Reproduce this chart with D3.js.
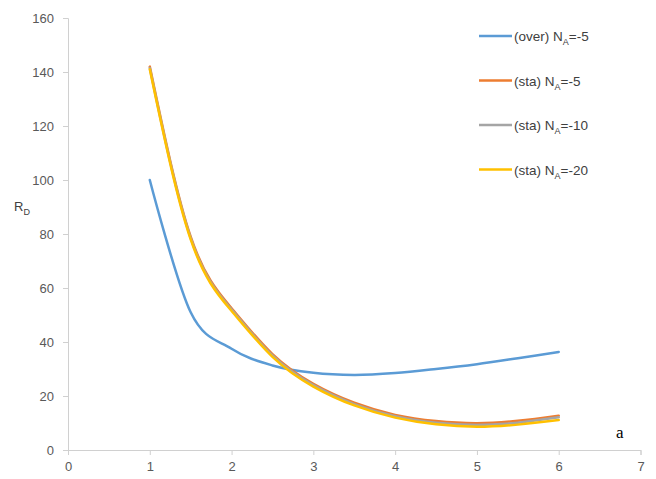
<!DOCTYPE html>
<html>
<head>
<meta charset="utf-8">
<script src="https://cdn.jsdelivr.net/npm/d3@7"></script>
<style>
  html, body { margin: 0; padding: 0; background: #fff; }
  svg { display: block; }
</style>
</head>
<body>
<svg id="chart" width="656" height="479"></svg>
<script>
// Sampled positions along the horizontal axis
const xValues = [1, 1.5, 2, 2.5, 3, 3.5, 4, 4.5, 5, 5.5, 6];

// R_D for each configuration
const overNA5 = [100, 51, 37.5, 31.3, 28.6, 27.8, 28.5, 30, 31.8, 34, 36.3];
const staNA5  = [142, 79, 52.5, 35.5, 24.5, 17.5, 13, 10.7, 9.9, 10.8, 12.7];
const staNA10 = [141.5, 78.5, 52, 35, 24, 17, 12.5, 10.1, 9.3, 10.1, 12.1];
const staNA20 = [141, 78, 51.5, 34.5, 23.5, 16.5, 12, 9.5, 8.6, 9.4, 11.1];

const seriesNames = ["(over) N", "(sta) N", "(sta) N", "(sta) N"];
const seriesValues = ["=-5", "=-5", "=-10", "=-20"];
const seriesColors = ["#5B9BD5", "#ED7D31", "#A5A5A5", "#FFC000"];

const xTicks = [0, 1, 2, 3, 4, 5, 6, 7];
const yTicks = [0, 20, 40, 60, 80, 100, 120, 140, 160];

const svg = d3.select("#chart");
const font = "'Liberation Sans', Arial, sans-serif";

const x = d3.scaleLinear().domain([0, 7]).range([68, 640.5]);
const y = d3.scaleLinear().domain([0, 160]).range([450, 18]);

// Y axis
const yAxis = svg.append("g")
  .attr("transform", `translate(${x(0)},0)`)
  .call(d3.axisLeft(y).tickValues(yTicks).tickFormat(d3.format("d")).tickSize(5).tickPadding(9));
yAxis.select(".domain").attr("stroke", "#d0d0d0");
yAxis.selectAll(".tick line").attr("stroke", "#d0d0d0");
yAxis.selectAll(".tick text")
  .attr("fill", "#595959").style("font-family", font).style("font-size", "13px");

// X axis
const xAxis = svg.append("g")
  .attr("transform", `translate(0,${y(0)})`)
  .call(d3.axisBottom(x).tickValues(xTicks).tickFormat(d3.format("d")).tickSize(5).tickPadding(7));
xAxis.select(".domain").attr("stroke", "#d0d0d0");
xAxis.selectAll(".tick line").attr("stroke", "#d0d0d0");
xAxis.selectAll(".tick text")
  .attr("fill", "#595959").style("font-family", font).style("font-size", "13px");

// Smoothed curves: the overshoot-prone blue curve uses a cardinal spline,
// the steep (sta) family a natural spline
const allSeries = [overNA5, staNA5, staNA10, staNA20];
const curves = [d3.curveCardinal.tension(0), d3.curveNatural, d3.curveNatural, d3.curveNatural];

allSeries.forEach((vals, k) => {
  const line = d3.line()
    .x((d, i) => x(xValues[i]))
    .y(d => y(d))
    .curve(curves[k]);
  svg.append("path")
    .datum(vals)
    .attr("fill", "none")
    .attr("stroke", seriesColors[k])
    .attr("stroke-width", 2.5)
    .attr("stroke-linecap", "round")
    .attr("d", line);
});

// Axis title
const yTitle = svg.append("text")
  .attr("x", 14).attr("y", 211)
  .attr("fill", "#404040")
  .style("font-family", font).style("font-size", "13px");
yTitle.append("tspan").text("R");
yTitle.append("tspan").attr("dy", 4).style("font-size", "9px").text("D");

// Legend
const legendY = [36, 80.5, 125, 169.5];
allSeries.forEach((vals, k) => {
  const g = svg.append("g").attr("transform", `translate(479,${legendY[k]})`);
  g.append("line")
    .attr("x1", 0).attr("x2", 33).attr("y1", 0).attr("y2", 0)
    .attr("stroke", seriesColors[k]).attr("stroke-width", 2.5);
  const t = g.append("text")
    .attr("x", 35).attr("y", 5)
    .attr("fill", "#404040")
    .style("font-family", font).style("font-size", "13.5px");
  t.append("tspan").text(seriesNames[k]);
  t.append("tspan").attr("dy", 4).style("font-size", "9px").text("A");
  t.append("tspan").attr("dy", -4).text(seriesValues[k]);
});

// Panel letter
svg.append("text")
  .attr("x", 616).attr("y", 438)
  .attr("fill", "#000")
  .style("font-family", "'Liberation Serif', 'Times New Roman', serif")
  .style("font-size", "17px")
  .text("a");
</script>
</body>
</html>
